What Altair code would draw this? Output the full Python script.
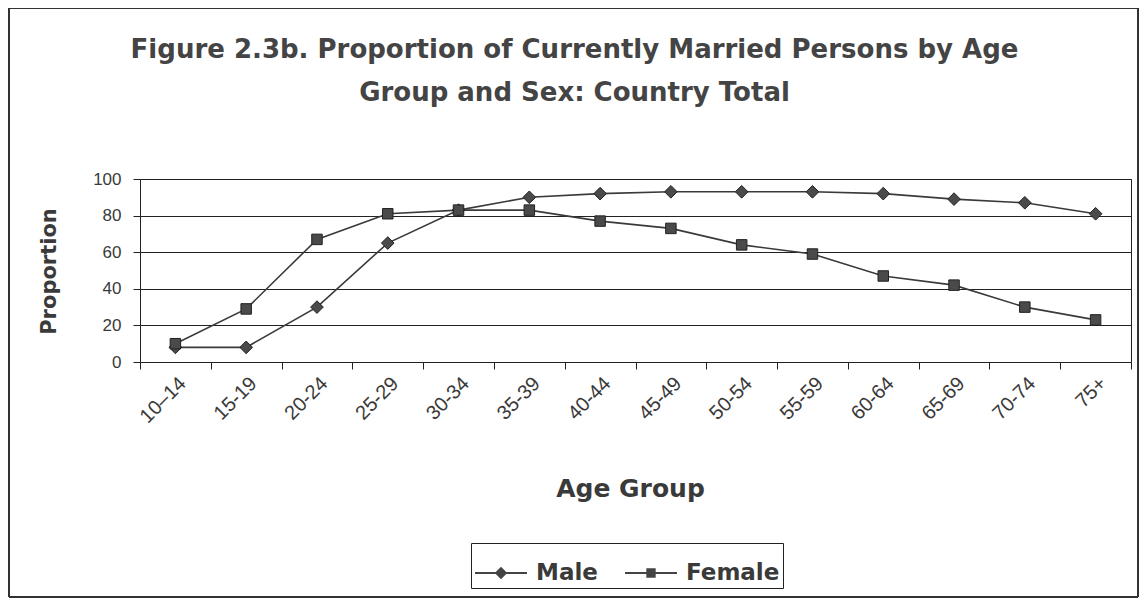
import altair as alt
import pandas as pd

age_groups = ["10–14", "15-19", "20-24", "25-29", "30-34", "35-39", "40-44",
              "45-49", "50-54", "55-59", "60-64", "65-69", "70-74", "75+"]
male = [8, 8, 30, 65, 83, 90, 92, 93, 93, 93, 92, 89, 87, 81]
female = [10, 29, 67, 81, 83, 83, 77, 73, 64, 59, 47, 42, 30, 23]
series = ["Male", "Female"]

rows = []
for i, g in enumerate(age_groups):
    rows.append({"age": g, "sex": "Male", "value": male[i]})
    rows.append({"age": g, "sex": "Female", "value": female[i]})
df = pd.DataFrame(rows)

INK = "#3a3a3a"
FONT = "Liberation Sans"
BOLD = "DejaVu Sans"

x_enc = alt.X("age:N", sort=age_groups, scale=alt.Scale(paddingInner=0, paddingOuter=0),
              axis=alt.Axis(title="Age Group", labelAngle=-45, labelFontSize=20,
                            labelFont=FONT, labelColor=INK, labelPadding=4,
                            tickBand="extent", tickSize=7, tickColor="#222",
                            domainColor="#222", grid=False,
                            titleFont=BOLD, titleFontWeight="bold",
                            titleFontSize=25, titleColor=INK,
                            titleBaseline="middle", titleY=126, titleX=490))
y_enc = alt.Y("value:Q", scale=alt.Scale(domain=[0, 100]),
              axis=alt.Axis(title="Proportion", values=[0, 20, 40, 60, 80, 100],
                            labelFontSize=17, labelFont=FONT, labelColor=INK,
                            tickSize=7, tickColor="#222", labelPadding=12,
                            domainColor="#222", gridColor="#222", gridWidth=1,
                            titleFont=BOLD, titleFontWeight="bold",
                            titleFontSize=21, titleColor=INK,
                            titleAngle=-90, titleBaseline="middle", titleAlign="center",
                            titleX=-91, titleY=92))

base = alt.Chart(df)

lines = base.mark_line(color=INK, strokeWidth=1.6).encode(
    x=x_enc, y=y_enc, detail="sex:N")

points = base.mark_point(filled=True, color="#4a4a4a", stroke="#222",
                         strokeWidth=1, opacity=1).encode(
    x=x_enc, y=y_enc,
    shape=alt.Shape("sex:N", scale=alt.Scale(domain=series, range=["diamond", "square"]),
                    legend=None),
    size=alt.Size("sex:N", scale=alt.Scale(domain=series, range=[160, 110]), legend=None))

# legend glyphs: a short line with the series marker in the middle
male_sym = "M-1,-0.035H1V0.035H-1ZM0,-0.24L0.24,0L0,0.24L-0.24,0Z"
female_sym = "M-1,-0.035H1V0.035H-1ZM-0.18,-0.18H0.18V0.18H-0.18Z"

legend_layer = base.mark_point(filled=True, color="#444", opacity=0).encode(
    x=x_enc, y=y_enc,
    shape=alt.Shape("sex:N", scale=alt.Scale(domain=series, range=[male_sym, female_sym]),
                    legend=alt.Legend(title=None, orient="none", legendX=331, legendY=364,
                                      direction="horizontal", strokeColor="#222",
                                      padding=3, columnPadding=24,
                                      symbolSize=2700, symbolOpacity=1,
                                      symbolFillColor="#444", labelOffset=8,
                                      labelFont=BOLD, labelFontWeight="bold",
                                      labelFontSize=23, labelColor=INK)))

frame = base.mark_rect(fill=None, stroke="#333", strokeWidth=1).encode(
    x=alt.value(-131), x2=alt.value(998), y=alt.value(-171), y2=alt.value(418))

chart = alt.layer(frame, lines, points, legend_layer).resolve_scale(
    shape="independent").properties(
    width=991, height=183,
    autosize=alt.AutoSizeParams(type="none"),
    padding={"left": 132, "top": 171, "right": 8, "bottom": 236},
    background="white",
    title=alt.Title(["Figure 2.3b. Proportion of Currently Married Persons by Age",
                     "Group and Sex: Country Total"],
                    font=BOLD, fontWeight="bold", fontSize=26, color="#444",
                    anchor="middle", dx=-61, offset=-124, baseline="bottom",
                    lineHeight=43)
).configure_view(stroke="#222", strokeWidth=1)

chart.save("out.html", embed_options={"renderer": "svg", "actions": False})
